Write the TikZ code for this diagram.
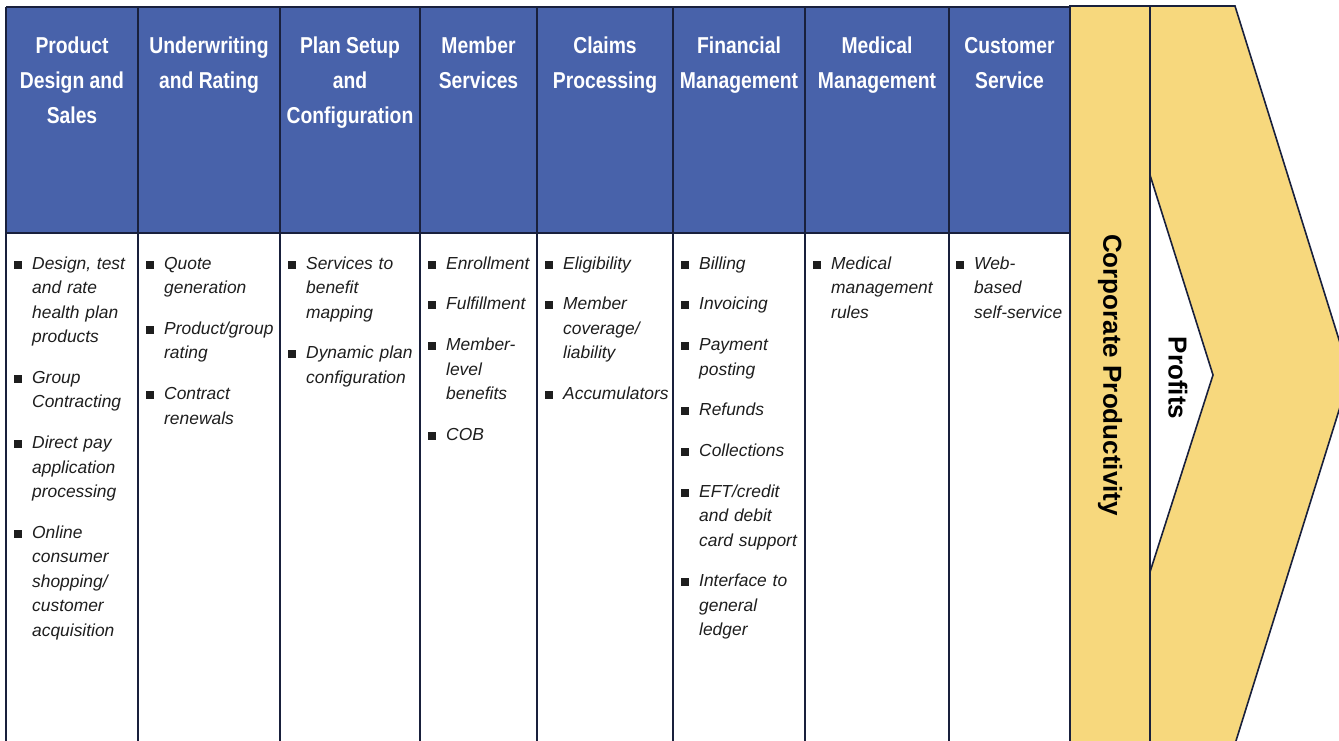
\documentclass[tikz,border=0pt]{standalone}
\usepackage{fontspec}
\setmainfont{Liberation Sans}
\newfontfamily\hdrfont{Liberation Sans}[FakeStretch=0.84]
\definecolor{hdrblue}{RGB}{72,98,170}
\definecolor{band}{RGB}{247,216,125}
\definecolor{edge}{RGB}{25,32,60}
\definecolor{bodytxt}{RGB}{30,30,30}
\newcommand{\bul}[1]{\par\noindent\hangindent=18pt\hangafter=1\makebox[18pt][l]{\rule{0pt}{13pt}\rule[0.5pt]{8pt}{8pt}}#1\par\vspace{16.2pt}}
\tikzset{
  hdr/.style={anchor=north, align=center, inner sep=0pt, text=white,
    font=\hdrfont\bfseries\fontsize{23}{35}\selectfont},
  cell/.style={anchor=north west, inner sep=0pt, text width=#1, align=left, text=bodytxt,
    font=\fontsize{17.4}{24.5}\selectfont\itshape},
  grid/.style={draw=edge, line width=1.6pt},
  vert/.style={inner sep=0pt, rotate=-90, text=black,
    font=\bfseries\fontsize{26}{30}\selectfont}
}
\begin{document}
\begin{tikzpicture}[x=1pt,y=-1pt]
\useasboundingbox (0,0) rectangle (1339,740);
\clip (0,0) rectangle (1339,740);
% table
\fill[white] (6,7) rectangle (1070,760);
\fill[hdrblue] (6,7) rectangle (1070,233);
\foreach \x in {6,138,280,420,537,673,805,949}
  \draw[grid] (\x,7) -- (\x,760);
\draw[grid] (6,7) -- (1070,7);
\draw[grid] (6,233) -- (1070,233);
% yellow band and chevron
\draw[grid, fill=band] (1070,6) rectangle (1150,760);
\draw[grid, fill=band] (1150,6) -- (1235,6) -- (1350,375) -- (1235,744) -- (1150,744) -- (1150,572) -- (1213,375) -- (1150,175) -- cycle;
\node[vert] (cp) at (1110,375) {Corporate Productivity};
\node[vert] (pr) at (1178,378) {Profits};
% headers
\node[hdr] (h1) at (72,35) {\rule{0pt}{18pt}Product\\Design and\\Sales};
\node[hdr] (h2) at (209,35) {\rule{0pt}{18pt}Underwriting\\and Rating};
\node[hdr] (h3) at (350,35) {\rule{0pt}{18pt}Plan Setup\\and\\Configuration};
\node[hdr] (h4) at (478.5,35) {\rule{0pt}{18pt}Member\\Services};
\node[hdr] (h5) at (605,35) {\rule{0pt}{18pt}Claims\\Processing};
\node[hdr] (h6) at (739,35) {\rule{0pt}{18pt}Financial\\Management};
\node[hdr] (h7) at (877,35) {\rule{0pt}{18pt}Medical\\Management};
\node[hdr] (h8) at (1009.5,35) {\rule{0pt}{18pt}Customer\\Service};
% body cells
\node[cell=140pt] (b1) at (14,244.5) {%
\bul{Design, test\newline and rate\newline health plan\newline products}%
\bul{Group\newline Contracting}%
\bul{Direct pay\newline application\newline processing}%
\bul{Online\newline consumer\newline shopping/\newline customer\newline acquisition}};
\node[cell=160pt] (b2) at (146,244.5) {%
\bul{Quote\newline generation}%
\bul{Product/group\newline rating}%
\bul{Contract\newline renewals}};
\node[cell=160pt] (b3) at (288,244.5) {%
\bul{Services to\newline benefit\newline mapping}%
\bul{Dynamic plan\newline configuration}};
\node[cell=140pt] (b4) at (428,244.5) {%
\bul{Enrollment}%
\bul{Fulfillment}%
\bul{Member-\newline level\newline benefits}%
\bul{COB}};
\node[cell=160pt] (b5) at (545,244.5) {%
\bul{Eligibility}%
\bul{Member\newline coverage/\newline liability}%
\bul{Accumulators}};
\node[cell=160pt] (b6) at (681,244.5) {%
\bul{Billing}%
\bul{Invoicing}%
\bul{Payment\newline posting}%
\bul{Refunds}%
\bul{Collections}%
\bul{EFT/credit\newline and debit\newline card support}%
\bul{Interface to\newline general\newline ledger}};
\node[cell=160pt] (b7) at (813,244.5) {%
\bul{Medical\newline management\newline rules}};
\node[cell=140pt] (b8) at (956,244.5) {%
\bul{Web-\newline based\newline self-service}};
\end{tikzpicture}
\end{document}
